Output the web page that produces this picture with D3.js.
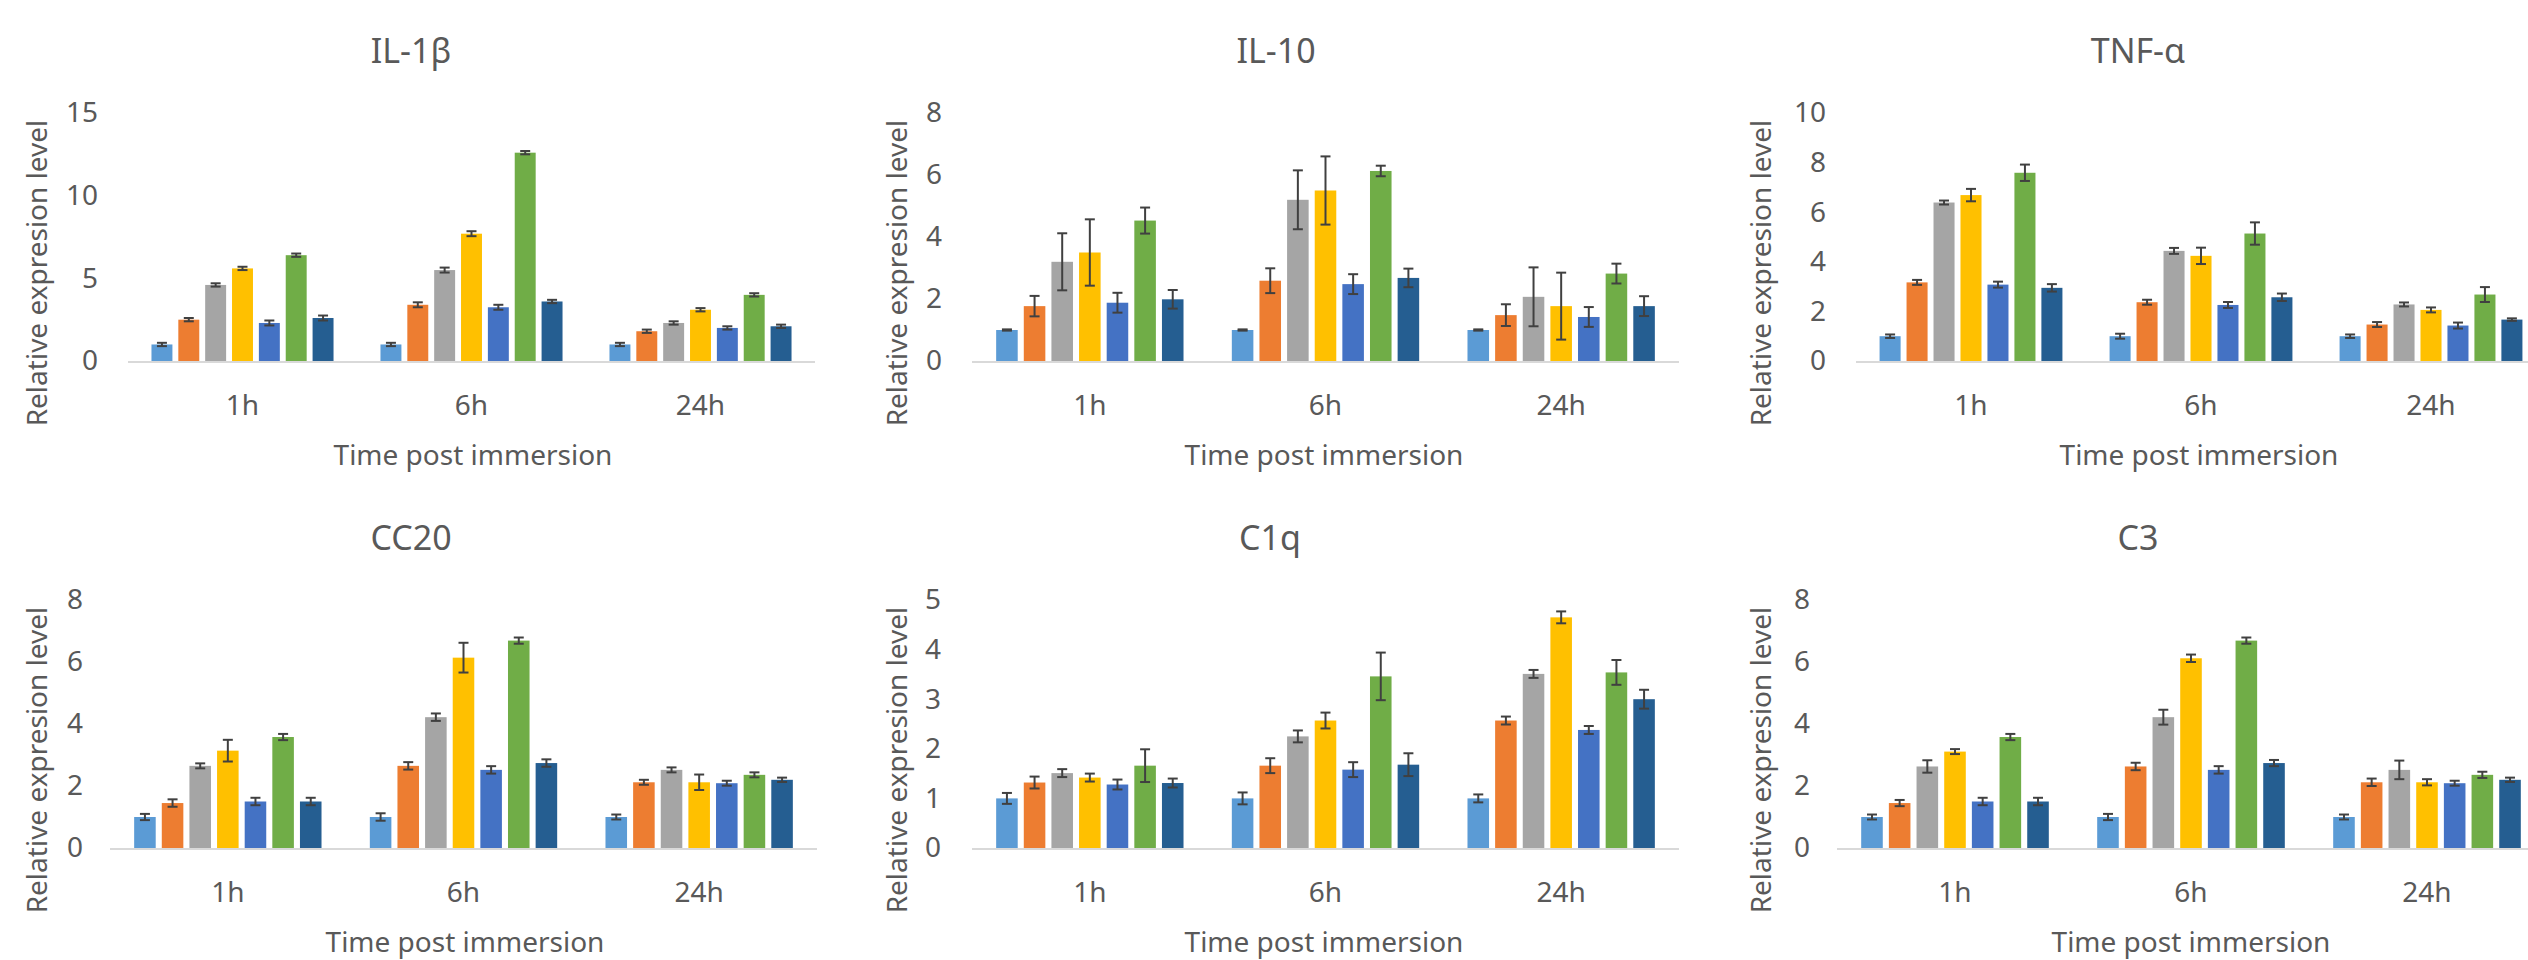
<!DOCTYPE html>
<meta charset="utf-8">
<style>
body { margin: 0; background: #fff; }
svg text { font-family: "Noto Sans", "Noto Sans CJK KR", sans-serif; fill: #595959; }
</style>
<body>
<script src="https://d3js.org/d3.v7.min.js"></script>
<script>

// categories and series
var times = ["1h", "6h", "24h"];
var seriesColors = ["#5B9BD5", "#ED7D31", "#A5A5A5", "#FFC000", "#4472C4", "#70AD47", "#255E91"];

// values: one row per time point, 7 groups each
var il1bMean = [[1.0, 2.5, 4.6, 5.6, 2.3, 6.4, 2.6], [1.0, 3.4, 5.5, 7.7, 3.25, 12.6, 3.6], [1.0, 1.8, 2.3, 3.1, 2.0, 4.0, 2.1]];
var il1bErr  = [[0.1, 0.1, 0.1, 0.1, 0.15, 0.1, 0.15], [0.1, 0.15, 0.15, 0.15, 0.15, 0.1, 0.1], [0.1, 0.1, 0.1, 0.1, 0.1, 0.1, 0.1]];

var il10Mean = [[1.0, 1.77, 3.2, 3.5, 1.88, 4.53, 1.99], [1.0, 2.59, 5.2, 5.5, 2.48, 6.13, 2.68], [1.0, 1.48, 2.07, 1.77, 1.42, 2.82, 1.77]];
var il10Err  = [[0.02, 0.33, 0.92, 1.07, 0.32, 0.42, 0.3], [0.02, 0.4, 0.95, 1.1, 0.32, 0.17, 0.3], [0.02, 0.35, 0.95, 1.08, 0.32, 0.32, 0.32]];

var tnfMean = [[1.0, 3.17, 6.39, 6.69, 3.08, 7.59, 2.95], [1.0, 2.37, 4.44, 4.24, 2.26, 5.14, 2.57], [1.0, 1.47, 2.28, 2.06, 1.43, 2.68, 1.67]];
var tnfErr  = [[0.07, 0.1, 0.08, 0.25, 0.12, 0.33, 0.15], [0.1, 0.1, 0.12, 0.33, 0.12, 0.45, 0.15], [0.07, 0.1, 0.08, 0.1, 0.12, 0.3, 0.05]];

var cc20Mean = [[1.0, 1.45, 2.65, 3.14, 1.5, 3.58, 1.5], [1.0, 2.65, 4.22, 6.14, 2.52, 6.69, 2.74], [1.0, 2.12, 2.52, 2.12, 2.09, 2.36, 2.2]];
var cc20Err  = [[0.1, 0.12, 0.08, 0.35, 0.12, 0.1, 0.12], [0.12, 0.12, 0.12, 0.48, 0.12, 0.1, 0.12], [0.08, 0.08, 0.08, 0.25, 0.08, 0.08, 0.07]];

var c1qMean = [[1.0, 1.32, 1.51, 1.42, 1.28, 1.66, 1.31], [1.0, 1.66, 2.25, 2.57, 1.58, 3.46, 1.68], [1.0, 2.57, 3.51, 4.65, 2.38, 3.54, 3.0]];
var c1qErr  = [[0.11, 0.12, 0.08, 0.08, 0.1, 0.33, 0.09], [0.12, 0.15, 0.12, 0.16, 0.15, 0.48, 0.23], [0.08, 0.08, 0.08, 0.12, 0.08, 0.25, 0.19]];

var c3Mean = [[1.0, 1.45, 2.63, 3.11, 1.5, 3.58, 1.5], [1.0, 2.63, 4.22, 6.12, 2.52, 6.69, 2.74], [1.0, 2.12, 2.52, 2.12, 2.09, 2.36, 2.2]];
var c3Err  = [[0.08, 0.1, 0.2, 0.08, 0.12, 0.1, 0.12], [0.1, 0.12, 0.24, 0.12, 0.12, 0.1, 0.1], [0.08, 0.12, 0.3, 0.1, 0.08, 0.1, 0.07]];

// panel layout (pixel positions of each small chart)
var panels = [
  {title: "IL-1β", mean: il1bMean, err: il1bErr, max: 15, step: 5, x0: 128, x1: 815, top: 113, base: 361, tickX: 98, yTitleX: 35, titleX: 411, xTitleX: 473},
  {title: "IL-10", mean: il10Mean, err: il10Err, max: 8, step: 2, x0: 972, x1: 1679, top: 113, base: 361, tickX: 942, yTitleX: 895, titleX: 1276, xTitleX: 1324},
  {title: "TNF-α", mean: tnfMean, err: tnfErr, max: 10, step: 2, x0: 1856, x1: 2546, top: 113, base: 361, tickX: 1826, yTitleX: 1759, titleX: 2138, xTitleX: 2199},
  {title: "CC20", mean: cc20Mean, err: cc20Err, max: 8, step: 2, x0: 110, x1: 817, top: 600, base: 848, tickX: 83, yTitleX: 35, titleX: 411, xTitleX: 465},
  {title: "C1q", mean: c1qMean, err: c1qErr, max: 5, step: 1, x0: 972, x1: 1679, top: 600, base: 848, tickX: 941, yTitleX: 895, titleX: 1270, xTitleX: 1324},
  {title: "C3", mean: c3Mean, err: c3Err, max: 8, step: 2, x0: 1837, x1: 2545, top: 600, base: 848, tickX: 1810, yTitleX: 1759, titleX: 2138, xTitleX: 2191}
];

var svg = d3.select("body").append("svg")
    .attr("width", 2528)
    .attr("height", 960);

panels.forEach(function(p) {
  var g = svg.append("g");

  var x = d3.scaleBand().domain(times).range([p.x0, p.x1]).paddingInner(0.205).paddingOuter(0.1025);
  var xs = d3.scaleBand().domain(d3.range(7)).range([0, x.bandwidth()]).paddingInner(0.22);
  var y = d3.scaleLinear().domain([0, p.max]).range([p.base, p.top]);

  // title
  g.append("text")
    .attr("x", p.titleX)
    .attr("y", p.top - 50)
    .attr("text-anchor", "middle")
    .style("font-size", "34px")
    .text(p.title);

  // y tick labels
  var yAxis = g.append("g")
    .attr("transform", "translate(" + (p.tickX + 12) + ",0)")
    .call(d3.axisLeft(y).tickValues(d3.range(0, p.max + 0.001, p.step)).tickFormat(d3.format("d")).tickSize(0).tickPadding(12));
  yAxis.select(".domain").remove();
  yAxis.selectAll("text").style("font-size", "28px").attr("fill", "#595959");

  // bars
  p.mean.forEach(function(row, gi) {
    var grp = g.append("g").attr("transform", "translate(" + x(times[gi]) + ",0)");
    grp.selectAll("rect")
      .data(row)
      .enter().append("rect")
        .attr("x", function(d, i) { return xs(i); })
        .attr("width", xs.bandwidth())
        .attr("y", function(d) { return y(d); })
        .attr("height", function(d) { return p.base - y(d); })
        .attr("fill", function(d, i) { return seriesColors[i]; });

    // error bars
    var eb = grp.selectAll("g.err")
      .data(row.map(function(d, i) { return {v: d, e: p.err[gi][i], i: i}; }))
      .enter().append("g")
        .attr("class", "err")
        .attr("stroke", "#404040")
        .attr("stroke-width", 2);
    eb.append("line")
      .attr("x1", function(d) { return xs(d.i) + xs.bandwidth() / 2; })
      .attr("x2", function(d) { return xs(d.i) + xs.bandwidth() / 2; })
      .attr("y1", function(d) { return y(d.v + d.e); })
      .attr("y2", function(d) { return y(d.v - d.e); });
    [1, -1].forEach(function(s) {
      eb.append("line")
        .attr("x1", function(d) { return xs(d.i) + xs.bandwidth() / 2 - 5; })
        .attr("x2", function(d) { return xs(d.i) + xs.bandwidth() / 2 + 5; })
        .attr("y1", function(d) { return y(d.v + s * d.e); })
        .attr("y2", function(d) { return y(d.v + s * d.e); });
    });
  });

  // baseline
  g.append("line")
    .attr("x1", p.x0).attr("x2", p.x1)
    .attr("y1", p.base + 1).attr("y2", p.base + 1)
    .attr("stroke", "#D9D9D9")
    .attr("stroke-width", 2);

  // x category labels
  var xAxis = g.append("g")
    .attr("transform", "translate(0," + p.base + ")")
    .call(d3.axisBottom(x).tickSize(0).tickPadding(34));
  xAxis.select(".domain").remove();
  xAxis.selectAll("text").style("font-size", "28px").attr("fill", "#595959");

  // x axis title
  g.append("text")
    .attr("x", p.xTitleX)
    .attr("y", p.base + 104)
    .attr("text-anchor", "middle")
    .style("font-size", "28px")
    .text("Time post immersion");

  // y axis title
  g.append("text")
    .attr("transform", "translate(" + (p.yTitleX + 12) + "," + ((p.top + p.base) / 2 + 36) + ") rotate(-90)")
    .attr("text-anchor", "middle")
    .style("font-size", "28px")
    .text("Relative expresion level");
});

</script>
</body>
